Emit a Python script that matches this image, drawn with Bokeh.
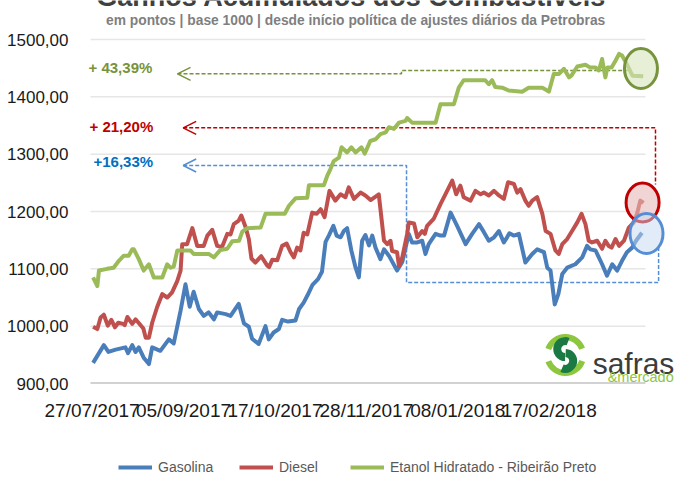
from bokeh.plotting import figure
from bokeh.layouts import column
from bokeh.models import Range1d, FixedTicker, Label, Arrow, OpenHead, Legend, LegendItem, AllLabels
from bokeh.embed import file_html
from bokeh.resources import INLINE

# ---------------- data ----------------
x_labels = ["27/07/2017", "05/09/2017", "17/10/2017", "28/11/2017", "08/01/2018", "17/02/2018"]
x_label_pos = [0, 28, 56, 84, 112, 140]
y_ticks = [900, 1000, 1100, 1200, 1300, 1400, 1500]
y_tick_labels = ["900,00", "1000,00", "1100,00", "1200,00", "1300,00", "1400,00", "1500,00"]

gas_x = [0.3, 3.6, 5.0, 7.2, 10.2, 11.0, 12.3, 13.3, 14.3, 15.8, 17.4, 18.4, 20.9, 23.5, 25.0,
         27.1, 28.6, 29.9, 31.1, 32.7, 34.2, 35.7, 37.3, 38.3, 40.9, 42.4, 44.9, 46.5, 48.0,
         49.0, 51.0, 53.1, 54.1, 55.6, 57.2, 58.2, 60.0, 62.3, 63.4, 64.8, 65.9, 67.5, 69.2,
         70.4, 71.5, 72.5, 73.9, 74.9, 76.1, 77.1, 78.1, 79.4, 80.7, 81.7, 82.7, 83.7, 84.8,
         85.8, 86.8, 88.3, 89.4, 90.9, 93.4, 95.0, 97.0, 98.0, 99.6, 101.1, 102.1, 103.1,
         105.2, 106.7, 107.8, 109.8, 111.8, 114.4, 116.4, 118.5, 120.0, 121.5, 123.1, 124.6,
         126.1, 127.1, 127.8, 129.2, 130.7, 132.7, 134.8, 136.3, 138.4, 139.4, 140.4, 141.7,
         142.8, 144.0, 145.5, 148.0, 150.1, 151.6, 152.6, 154.2, 155.2, 156.2, 157.7, 159.3,
         160.8, 162.3, 163.8, 165.4, 166.6, 168.4]
gas_y = [936, 967, 955, 959, 963, 953, 967, 955, 963, 945, 934, 963, 957, 977, 970,
         1027, 1073, 1034, 1060, 1030, 1018, 1024, 1012, 1024, 1021, 1018, 1039, 1005, 999,
         978, 969, 1000, 977, 989, 995, 1011, 1008, 1010, 1030, 1041, 1053, 1072, 1082,
         1095, 1147, 1158, 1175, 1158, 1155, 1166, 1171, 1132, 1102, 1085, 1149, 1159, 1141,
         1158, 1137, 1117, 1134, 1123, 1097, 1112, 1161, 1146, 1146, 1149, 1126, 1143,
         1161, 1158, 1158, 1198, 1175, 1143, 1161, 1178, 1164, 1149, 1155, 1166,
         1146, 1155, 1162, 1158, 1161, 1111, 1126, 1134, 1129, 1102, 1097, 1038,
         1056, 1091, 1102, 1108, 1120, 1140, 1134, 1132, 1120, 1108, 1088, 1108,
         1097, 1114, 1129, 1137, 1149, 1163]

die_x = [0.3, 1.6, 2.6, 3.6, 4.8, 5.9, 7.0, 8.0, 9.5, 10.0, 10.8, 12.3, 13.3, 14.8, 15.7, 16.4,
         17.4, 18.4, 19.9, 21.5, 23.0, 24.5, 26.1, 27.1, 27.6, 29.1, 30.7, 32.2, 34.2, 35.3,
         36.8, 38.3, 39.8, 41.4, 42.4, 43.4, 44.9, 45.7, 47.0, 48.0, 48.8, 50.0, 51.8, 53.6,
         54.2, 55.2, 56.7, 58.2, 59.6, 60.8, 61.8, 62.8, 63.8, 64.8, 65.9, 67.4, 68.8, 70.0,
         71.2, 72.7, 74.5, 76.1, 77.6, 78.6, 80.2, 82.2, 83.7, 85.3, 87.8, 89.4, 90.4, 91.4,
         91.9, 93.4, 94.0, 95.0, 96.5, 97.0, 98.6, 99.6, 101.1, 101.9, 102.6, 104.6, 106.7,
         108.2, 110.3, 111.5, 112.8, 113.8, 115.9, 117.4, 119.0, 120.0, 121.5, 123.1, 124.6,
         126.1, 127.4, 129.2, 130.2, 131.2, 132.7, 133.7, 134.8, 136.3, 137.9, 138.9, 140.4,
         141.9, 142.9, 144.0, 145.5, 147.0, 148.6, 149.9, 151.1, 152.1, 153.1, 154.7, 156.2,
         157.2, 158.2, 159.1, 160.3, 161.4, 162.9, 164.4, 165.9, 166.9, 167.9, 168.9]
die_y = [999, 995, 1015, 1020, 1001, 1011, 998, 1006, 1004, 1002, 1016, 1004, 1012, 1002, 996, 980,
         980, 1006, 1033, 1056, 1050, 1059, 1079, 1097, 1143, 1143, 1171, 1140, 1140, 1158,
         1168, 1140, 1138, 1161, 1160, 1178, 1184, 1193, 1173, 1152, 1118, 1111, 1122, 1106,
         1103, 1116, 1115, 1140, 1144, 1129, 1120, 1137, 1132, 1163, 1160, 1198, 1196, 1204,
         1190, 1236, 1219, 1230, 1225, 1242, 1222, 1233, 1228, 1220, 1230, 1149, 1143, 1149,
         1131, 1129, 1105, 1120, 1161, 1181, 1179, 1155, 1166, 1161, 1175, 1187, 1213,
         1230, 1254, 1230, 1245, 1225, 1219, 1236, 1230, 1233, 1228, 1236, 1228,
         1222, 1251, 1248, 1233, 1239, 1219, 1210, 1219, 1225, 1196, 1166, 1161,
         1132, 1126, 1143, 1152, 1166, 1181, 1196, 1178, 1149, 1146, 1149, 1135,
         1149, 1140, 1137, 1152, 1140, 1149, 1172, 1181, 1196, 1219, 1215]

eta_x = [0.3, 1.6, 2.1, 4.6, 6.6, 8.2, 9.7, 11.2, 12.3, 12.8, 14.3, 15.8, 17.4, 18.9, 21.5, 23.0,
         24.0, 25.0, 26.1, 30.1, 31.1, 35.7, 37.3, 39.3, 41.4, 42.9, 45.0, 46.0, 47.5, 51.6,
         53.1, 59.0, 60.3, 62.3, 65.9, 66.4, 71.0, 72.0, 73.0, 74.0, 75.6, 76.4, 78.1, 79.4,
         80.7, 82.5, 83.5, 85.2, 86.8, 88.3, 89.9, 90.9, 92.4, 94.0, 96.0, 96.5, 98.0, 105.2,
         106.7, 110.8, 112.3, 113.8, 120.4, 121.5, 122.5, 123.5, 125.6, 127.6, 131.7, 133.7,
         137.9, 139.4, 139.9, 141.4, 143.0, 144.5, 146.1, 146.8, 148.6, 151.1, 152.6, 154.2,
         155.2, 156.2, 157.2, 157.8, 159.1, 160.3, 161.4, 162.3, 163.5, 165.5, 168.8]
eta_y = [1085, 1070, 1097, 1100, 1102, 1114, 1123, 1123, 1134, 1134, 1117, 1097, 1108, 1085, 1085, 1108,
         1102, 1104, 1132, 1132, 1126, 1126, 1120, 1133, 1135, 1148, 1149, 1165, 1171, 1172,
         1196, 1196, 1210, 1223, 1224, 1246, 1246, 1262, 1274, 1288, 1294, 1312, 1303, 1312,
         1303, 1312, 1301, 1323, 1326, 1335, 1338, 1347, 1344, 1355, 1358, 1363, 1355, 1355,
         1387, 1387, 1416, 1429, 1429, 1422, 1429, 1417, 1416, 1411, 1409, 1416,
         1416, 1411, 1409, 1440, 1440, 1449, 1434, 1437, 1453, 1456, 1451, 1451,
         1446, 1466, 1434, 1451, 1451, 1463, 1475, 1472, 1460, 1437, 1436]

series_names = ["Gasolina", "Diesel", "Etanol Hidratado - Ribeirão Preto"]
pct_labels = ["+16,33%", "+ 21,20%", "+ 43,39%"]

# ---------------- styles ----------------
C_GAS, C_DIE, C_ETA = "#4A7EBB", "#C0504D", "#9BBB59"
GREEN_D, RED_D, BLUE_D = "#77933C", "#C00000", "#558ED5"
FONT = "Liberation Sans"

# main chart: the frame reaches the top of the page so title texts are not clipped
p = figure(width=675, height=440, x_range=Range1d(-1.715, 178.68), y_range=Range1d(900, 1568.06),
           output_backend="svg", toolbar_location=None, title=None,
           min_border_left=86, min_border_right=0, min_border_top=0, min_border_bottom=57)
p.outline_line_color = None
p.background_fill_color = "white"
p.border_fill_color = "white"
p.xgrid.visible = False
p.ygrid.visible = False

# grid lines (limited to the category span) and base line
p.segment(x0=-0.5, x1=169.5, y0=y_ticks[1:], y1=y_ticks[1:], line_color="#E6E6E6", line_width=1.5)
p.segment(x0=-0.5, x1=169.5, y0=y_ticks[0], y1=y_ticks[0], line_color="#A6A6A6", line_width=2)

# axes
p.xaxis.ticker = FixedTicker(ticks=x_label_pos)
p.xaxis.major_label_overrides = {k: v for k, v in zip(x_label_pos, x_labels)}
p.xaxis.major_label_policy = AllLabels()
p.xaxis.axis_line_color = None
p.xaxis.major_tick_line_color = None
p.xaxis.minor_tick_line_color = None
p.xaxis.major_label_text_font = FONT
p.xaxis.major_label_text_font_size = "19px"
p.xaxis.major_label_text_color = "#1A1A1A"
p.xaxis.major_label_standoff = 10

p.yaxis.ticker = FixedTicker(ticks=y_ticks)
p.yaxis.major_label_overrides = {k: v for k, v in zip(y_ticks, y_tick_labels)}
p.yaxis.axis_line_color = None
p.yaxis.major_tick_line_color = None
p.yaxis.minor_tick_line_color = None
p.yaxis.major_label_text_font = FONT
p.yaxis.major_label_text_font_size = "17px"
p.yaxis.major_label_text_color = "#1A1A1A"
p.yaxis.major_label_standoff = 12

# dashed guide lines with arrow heads
p.line([26.16, 94.76, 94.76, 164.0], [1440.2, 1440.2, 1446.0, 1446.0],
       line_color=GREEN_D, line_width=1.5, line_dash="4 2")
p.line([27.9, 172.55, 172.55], [1346.0, 1346.0, 1247.1],
       line_color=RED_D, line_width=1.5, line_dash="4 2")
p.line([27.9, 96.3, 96.3, 173.5, 173.5], [1280.3, 1280.3, 1076.2, 1076.2, 1137.2],
       line_color=BLUE_D, line_width=1.5, line_dash="4 2")
for xs, xe, yy, col in [(31.0, 26.16, 1440.2, GREEN_D), (32.0, 27.9, 1346.0, RED_D),
                        (32.0, 27.9, 1280.3, BLUE_D)]:
    p.add_layout(Arrow(end=OpenHead(size=13, line_color=col, line_width=1.5),
                       x_start=xs, y_start=yy, x_end=xe, y_end=yy,
                       line_color=col, line_width=1.5, line_alpha=0))

# series
r_gas = p.line(gas_x, gas_y, line_color=C_GAS, line_width=4, line_join="round")
r_die = p.line(die_x, die_y, line_color=C_DIE, line_width=4, line_join="round")
r_eta = p.line(eta_x, eta_y, line_color=C_ETA, line_width=4, line_join="round")

# highlight ellipses at the last points
p.ellipse(x=[168.1], y=[1449.4], width=33, height=40, width_units="screen", height_units="screen",
          fill_color="#D7E4BD", fill_alpha=0.6, line_color=GREEN_D, line_width=3)
p.ellipse(x=[168.6], y=[1215.7], width=33, height=39, width_units="screen", height_units="screen",
          fill_color="#E6B9B8", fill_alpha=0.6, line_color=RED_D, line_width=3)
p.ellipse(x=[169.8], y=[1161.6], width=33, height=40, width_units="screen", height_units="screen",
          fill_color="#C6D9F1", fill_alpha=0.5, line_color=BLUE_D, line_width=3)

# percentage labels
for txt, xx, yy, col in [(pct_labels[2], -1.1, 1452, GREEN_D), (pct_labels[1], -0.8, 1348, RED_D),
                         (pct_labels[0], 0.43, 1287, "#0070C0")]:
    p.add_layout(Label(x=xx, y=yy, text=txt, text_align="left", text_baseline="middle",
                       text_font=FONT, text_font_size="15px", text_font_style="bold", text_color=col))

# title (partly above the visible page, like the reference) and subtitle
p.add_layout(Label(x=79.4, y=1575.0, text="Ganhos Acumulados dos Combustíveis", text_align="center",
                   text_baseline="alphabetic", text_font=FONT, text_font_size="27px",
                   text_font_style="bold", text_color="#404040"))
p.add_layout(Label(x=81.3, y=1534, text="em pontos | base 1000 | desde  início política de ajustes diários da Petrobras",
                   text_align="center", text_baseline="middle", text_font=FONT, text_font_size="13.8px",
                   text_font_style="bold", text_color="#7F7F7F"))

# logo
LIME, DKGREEN = "#8DC63F", "#1B7A43"
p.annular_wedge(x=[144.9, 144.9], y=[949.7, 949.7], inner_radius=15, outer_radius=21,
                inner_radius_units="screen", outer_radius_units="screen",
                start_angle=[0.35, 3.5], end_angle=[2.8, 5.95],
                fill_color=LIME, line_color=None)
p.annular_wedge(x=[144.9, 144.9], y=[960.0, 939.4], inner_radius=4, outer_radius=12,
                inner_radius_units="screen", outer_radius_units="screen",
                start_angle=[1.2, 4.3], end_angle=[4.7, 7.8],
                fill_color=DKGREEN, line_color=None)
p.add_layout(Label(x=153.3, y=934.9, text="safras", text_align="left", text_baseline="alphabetic",
                   text_font=FONT, text_font_size="30px", text_color="#3C3C3C"))
p.add_layout(Label(x=157.9, y=912.2, text="&mercado", text_align="left", text_baseline="alphabetic",
                   text_font=FONT, text_font_size="14.5px", text_color=LIME))

# legend strip below the chart (its frame is aligned with the main frame, left = 86 px)
pl = figure(width=675, height=40, x_range=Range1d(0, 1), y_range=Range1d(0, 1),
            output_backend="svg", toolbar_location=None, title=None,
            x_axis_type=None, y_axis_type=None, min_border=0)
pl.outline_line_color = None
pl.xgrid.visible = False
pl.ygrid.visible = False
for col, name, vx in [(C_GAS, series_names[0], 32), (C_DIE, series_names[1], 153),
                      (C_ETA, series_names[2], 264)]:
    rr = pl.line([-5, -4], [-5, -4], line_color=col, line_width=4)
    lg = Legend(items=[LegendItem(label=name, renderers=[rr])], location=(vx, 3),
                orientation="horizontal", padding=0, margin=0, border_line_color=None,
                background_fill_alpha=0, glyph_width=34, glyph_height=20, label_height=20,
                label_standoff=6, label_text_font=FONT, label_text_font_size="14px",
                label_text_color="#595959")
    pl.add_layout(lg)

layout = column(p, pl, spacing=0)
open("out.html", "w").write(file_html(layout, INLINE))
